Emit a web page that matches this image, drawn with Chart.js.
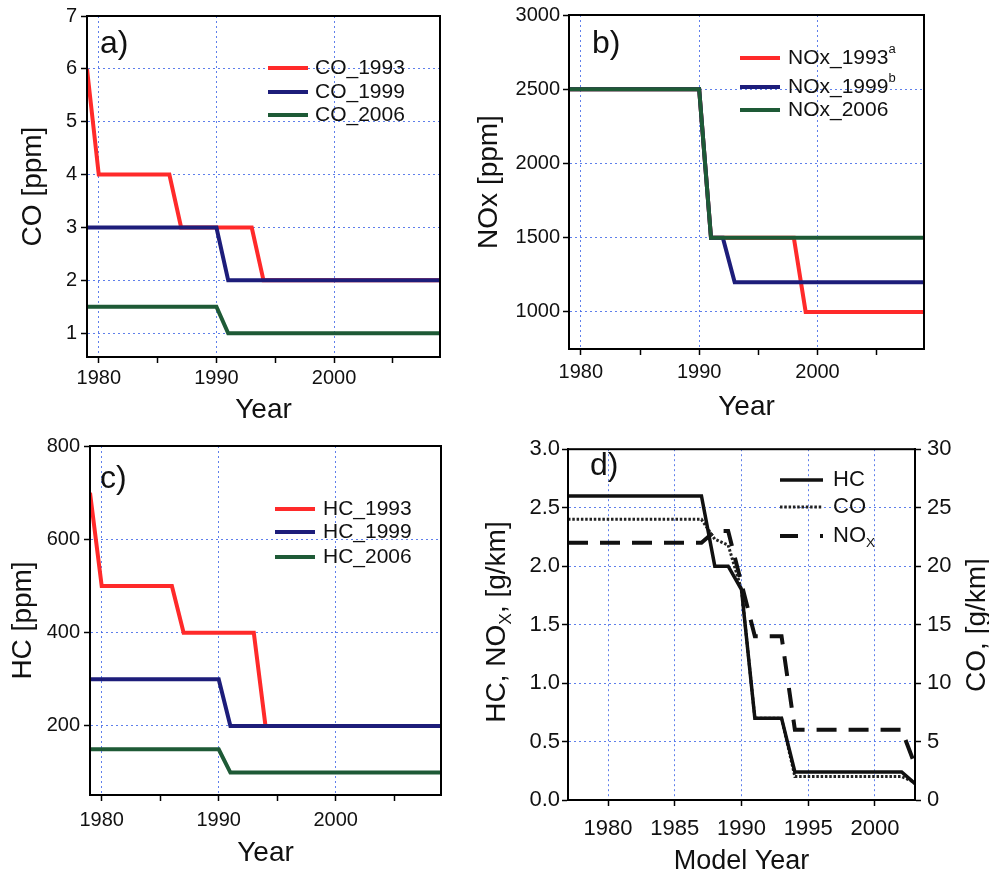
<!DOCTYPE html>
<html>
<head>
<meta charset="utf-8">
<title>Emission limits</title>
<script src="https://cdn.jsdelivr.net/npm/chart.js@4.4.0/dist/chart.umd.min.js"></script>
<style>
  body { margin: 0; background: #fff; width: 989px; height: 875px; overflow: hidden; position: relative; }
  canvas { position: absolute; }
</style>
</head>
<body>
<canvas id="chartA"></canvas>
<canvas id="chartB"></canvas>
<canvas id="chartC"></canvas>
<canvas id="chartD"></canvas>
<script>
// a) - c): limits per model year, 1979-2009
const years = [1979, 1980, 1981, 1982, 1983, 1984, 1985, 1986, 1987, 1988, 1989, 1990, 1991, 1992, 1993, 1994,
               1995, 1996, 1997, 1998, 1999, 2000, 2001, 2002, 2003, 2004, 2005, 2006, 2007, 2008, 2009];

const co1993 = [6, 4, 4, 4, 4, 4, 4, 4, 3, 3, 3, 3, 3, 3, 3, 2, 2, 2, 2, 2, 2, 2, 2, 2, 2, 2, 2, 2, 2, 2, 2];
const co1999 = [3, 3, 3, 3, 3, 3, 3, 3, 3, 3, 3, 3, 2, 2, 2, 2, 2, 2, 2, 2, 2, 2, 2, 2, 2, 2, 2, 2, 2, 2, 2];
const co2006 = [1.5, 1.5, 1.5, 1.5, 1.5, 1.5, 1.5, 1.5, 1.5, 1.5, 1.5, 1.5, 1, 1, 1, 1, 1, 1, 1, 1, 1, 1, 1, 1, 1, 1, 1, 1, 1, 1, 1];

const nox1993 = [2500, 2500, 2500, 2500, 2500, 2500, 2500, 2500, 2500, 2500, 2500, 2500, 1500, 1500, 1500, 1500,
                 1500, 1500, 1500, 1500, 1000, 1000, 1000, 1000, 1000, 1000, 1000, 1000, 1000, 1000, 1000];
const nox1999 = [2500, 2500, 2500, 2500, 2500, 2500, 2500, 2500, 2500, 2500, 2500, 2500, 1500, 1500, 1200, 1200,
                 1200, 1200, 1200, 1200, 1200, 1200, 1200, 1200, 1200, 1200, 1200, 1200, 1200, 1200, 1200];
const nox2006 = [2500, 2500, 2500, 2500, 2500, 2500, 2500, 2500, 2500, 2500, 2500, 2500, 1500, 1500, 1500, 1500,
                 1500, 1500, 1500, 1500, 1500, 1500, 1500, 1500, 1500, 1500, 1500, 1500, 1500, 1500, 1500];

const hc1993 = [700, 500, 500, 500, 500, 500, 500, 500, 400, 400, 400, 400, 400, 400, 400, 200,
                200, 200, 200, 200, 200, 200, 200, 200, 200, 200, 200, 200, 200, 200, 200];
const hc1999 = [300, 300, 300, 300, 300, 300, 300, 300, 300, 300, 300, 300, 200, 200, 200, 200,
                200, 200, 200, 200, 200, 200, 200, 200, 200, 200, 200, 200, 200, 200, 200];
const hc2006 = [150, 150, 150, 150, 150, 150, 150, 150, 150, 150, 150, 150, 100, 100, 100, 100,
                100, 100, 100, 100, 100, 100, 100, 100, 100, 100, 100, 100, 100, 100, 100];

// d): g/km standards, 1977-2003
const modelYears = [1977, 1978, 1979, 1980, 1981, 1982, 1983, 1984, 1985, 1986, 1987, 1988, 1989, 1990,
                    1991, 1992, 1993, 1994, 1995, 1996, 1997, 1998, 1999, 2000, 2001, 2002, 2003];
const hcKm  = [2.6, 2.6, 2.6, 2.6, 2.6, 2.6, 2.6, 2.6, 2.6, 2.6, 2.6, 2.0, 2.0, 1.8,
               0.7, 0.7, 0.7, 0.24, 0.24, 0.24, 0.24, 0.24, 0.24, 0.24, 0.24, 0.24, 0.14];
const coKm  = [24, 24, 24, 24, 24, 24, 24, 24, 24, 24, 24, 22.3, 21.8, 18,
               7, 7, 7, 2, 2, 2, 2, 2, 2, 2, 2, 2, 1.5];
const noxKm = [2.2, 2.2, 2.2, 2.2, 2.2, 2.2, 2.2, 2.2, 2.2, 2.2, 2.2, 2.3, 2.3, 1.85,
               1.4, 1.4, 1.4, 0.6, 0.6, 0.6, 0.6, 0.6, 0.6, 0.6, 0.6, 0.6, 0.3];

// tick positions
const yearTicks = [1980, 1985, 1990, 1995, 2000, 2005];
const coTicks = [1, 2, 3, 4, 5, 6, 7];
const noxTicks = [1000, 1500, 2000, 2500, 3000];
const hcTicks = [200, 400, 600, 800];
const modelYearTicks = [1980, 1985, 1990, 1995, 2000];
const kmTicks = [0, 0.5, 1.0, 1.5, 2.0, 2.5, 3.0];
const coKmTicks = [0, 5, 10, 15, 20, 25, 30];

const FONT = '"Liberation Sans", Arial, Helvetica, sans-serif';
const INK = '#111';
const GRID = 'rgba(55, 95, 230, 0.8)';
const RED = '#ff2a2a', NAVY = '#1d1d7a', GREEN = '#1e5a36';

function points(xs, ys) {
    return xs.map((x, i) => ({ x, y: ys[i] }));
}

function lineSet(label, xs, ys, color, order, extra) {
    return Object.assign({
        label,
        data: points(xs, ys),
        borderColor: color,
        backgroundColor: color,
        borderWidth: 4,
        pointRadius: 0,
        pointHoverRadius: 0,
        tension: 0,
        fill: false,
        order
    }, extra || {});
}

function axis(o) {
    return {
        type: "linear",
        position: o.pos,
        min: o.min,
        max: o.max,
        afterBuildTicks: ax => { ax.ticks = o.ticks.map(v => ({ value: v })); },
        afterFit: ax => {
            if (o.pos === "bottom") ax.height = o.size;
            else ax.width = o.size;
        },
        ticks: {
            autoSkip: false,
            maxRotation: 0,
            padding: o.pad,
            color: INK,
            font: { family: FONT, size: o.fontSize },
            callback: o.label || (v => String(v))
        },
        grid: {
            drawOnChartArea: o.grid !== false,
            color: o.gridColor || GRID,
            lineWidth: 1,
            drawTicks: true,
            tickLength: 6,
            tickWidth: 1.5,
            tickColor: "#000"
        },
        border: { display: true, color: "#000", width: 2, dash: [2, 3] },
        title: o.title
            ? { display: true, text: o.title, color: INK, font: { family: FONT, size: o.titleSize || 28 } }
            : { display: false }
    };
}

// label text: "^a" -> superscript a, "~X" -> subscript X
function runsOf(text) {
    const runs = [];
    const re = /([\^~])(\w)/g;
    let last = 0, m;
    while ((m = re.exec(text)) !== null) {
        if (m.index > last) runs.push({ t: text.slice(last, m.index) });
        runs.push({ t: m[2], sup: m[1] === "^", sub: m[1] === "~" });
        last = re.lastIndex;
    }
    if (last < text.length) runs.push({ t: text.slice(last) });
    return runs;
}

function drawRuns(ctx, runs, x, y, size, align) {
    const w = runs.reduce((s, r) => {
        ctx.font = `${(r.sup || r.sub) ? size * 0.62 : size}px ${FONT}`;
        return s + ctx.measureText(r.t).width;
    }, 0);
    let cx = align === "center" ? x - w / 2 : x;
    ctx.textAlign = "left";
    ctx.textBaseline = "middle";
    runs.forEach(r => {
        const small = r.sup || r.sub;
        ctx.font = `${small ? size * 0.62 : size}px ${FONT}`;
        const dy = r.sup ? -size * 0.42 : r.sub ? size * 0.32 : 0;
        ctx.fillText(r.t, cx, y + dy);
        cx += ctx.measureText(r.t).width;
    });
}

// frame, panel letter, in-plot legend and extra titles
function decor(box, spec) {
    return {
        id: "decor",
        afterDraw(chart) {
            const { ctx, chartArea: a } = chart;
            const ox = box.x, oy = box.y;
            ctx.save();
            ctx.setLineDash([]);
            ctx.strokeStyle = "#000";
            ctx.lineWidth = 2;
            ctx.strokeRect(a.left, a.top, a.right - a.left, a.bottom - a.top);

            ctx.fillStyle = INK;
            ctx.font = `32px ${FONT}`;
            ctx.textAlign = "left";
            ctx.textBaseline = "alphabetic";
            ctx.fillText(spec.tag, spec.tagAt[0] - ox, spec.tagAt[1] - oy);

            const lg = spec.legend;
            chart.data.datasets.forEach((ds, i) => {
                const y = lg.rows[i] - oy;
                ctx.save();
                ctx.strokeStyle = ds.borderColor;
                ctx.lineWidth = ds.borderWidth;
                ctx.setLineDash((lg.dash && lg.dash[i]) || ds.borderDash || []);
                ctx.beginPath();
                ctx.moveTo(lg.x1 - ox, y);
                ctx.lineTo(lg.x2 - ox, y);
                ctx.stroke();
                ctx.restore();
                ctx.fillStyle = INK;
                drawRuns(ctx, runsOf(ds.label), lg.tx - ox, y, lg.size, "left");
            });

            (spec.sideTitles || []).forEach(st => {
                ctx.save();
                ctx.translate(st.x - ox, st.y - oy);
                ctx.rotate(-Math.PI / 2);
                ctx.fillStyle = INK;
                drawRuns(ctx, runsOf(st.text), 0, 0, st.size, "center");
                ctx.restore();
            });
            ctx.restore();
        }
    };
}

function mount(id, box) {
    const c = document.getElementById(id);
    c.width = box.w;
    c.height = box.h;
    c.style.left = box.x + "px";
    c.style.top = box.y + "px";
    return c.getContext("2d");
}

function baseOptions(padTop, padRight, scales) {
    return {
        responsive: false,
        animation: false,
        events: [],
        layout: { padding: { top: padTop, right: padRight, left: 0, bottom: 0 } },
        plugins: { legend: { display: false }, tooltip: { enabled: false } },
        scales
    };
}

const tenYears = v => (v % 10 === 0 ? String(v) : "");
const decadeGrid = c => (c.tick && c.tick.value % 10 === 0 ? GRID : "rgba(0,0,0,0)");

// a) CO
const boxA = { x: 12, y: 0, w: 438, h: 431 };
new Chart(mount("chartA", boxA), {
    type: "line",
    data: {
        datasets: [
            lineSet("CO_1993", years, co1993, RED, 3),
            lineSet("CO_1999", years, co1999, NAVY, 2),
            lineSet("CO_2006", years, co2006, GREEN, 1)
        ]
    },
    options: baseOptions(14, 10, {
        x: axis({ pos: "bottom", min: 1979, max: 2009, ticks: yearTicks, size: 74, pad: 3, fontSize: 20,
                  label: tenYears, gridColor: decadeGrid, title: "Year" }),
        y: axis({ pos: "left", min: 0.55, max: 7, ticks: coTicks, size: 75, pad: 4, fontSize: 20, title: "CO [ppm]" })
    }),
    plugins: [decor(boxA, {
        tag: "a)", tagAt: [100, 53],
        legend: { x1: 268, x2: 308, tx: 315, rows: [68, 92, 115], size: 21 }
    })]
});

// b) NOx
const boxB = { x: 468, y: 0, w: 466, h: 428 };
new Chart(mount("chartB", boxB), {
    type: "line",
    data: {
        datasets: [
            lineSet("NOx_1993^a", years, nox1993, RED, 3),
            lineSet("NOx_1999^b", years, nox1999, NAVY, 2),
            lineSet("NOx_2006", years, nox2006, GREEN, 1)
        ]
    },
    options: baseOptions(14, 10, {
        x: axis({ pos: "bottom", min: 1979, max: 2009, ticks: yearTicks, size: 79, pad: 5, fontSize: 20,
                  label: tenYears, gridColor: decadeGrid, title: "Year" }),
        y: axis({ pos: "left", min: 750, max: 3000, ticks: noxTicks, size: 101, pad: 3, fontSize: 20, title: "NOx [ppm]" })
    }),
    plugins: [decor(boxB, {
        tag: "b)", tagAt: [592, 53],
        legend: { x1: 740, x2: 780, tx: 788, rows: [58, 87, 110], size: 21 }
    })]
});

// c) HC
const boxC = { x: 2, y: 430, w: 449, h: 444 };
new Chart(mount("chartC", boxC), {
    type: "line",
    data: {
        datasets: [
            lineSet("HC_1993", years, hc1993, RED, 3),
            lineSet("HC_1999", years, hc1999, NAVY, 2),
            lineSet("HC_2006", years, hc2006, GREEN, 1)
        ]
    },
    options: baseOptions(16, 10, {
        x: axis({ pos: "bottom", min: 1979, max: 2009, ticks: yearTicks, size: 79, pad: 7, fontSize: 20,
                  label: tenYears, gridColor: decadeGrid, title: "Year" }),
        y: axis({ pos: "left", min: 52, max: 800, ticks: hcTicks, size: 88, pad: 4, fontSize: 20, title: "HC [ppm]" })
    }),
    plugins: [decor(boxC, {
        tag: "c)", tagAt: [100, 488],
        legend: { x1: 275, x2: 315, tx: 323, rows: [509, 532, 557], size: 21 }
    })]
});

// d) g/km standards, CO on the right-hand axis
const boxD = { x: 479, y: 430, w: 510, h: 452 };
new Chart(mount("chartD", boxD), {
    type: "line",
    data: {
        datasets: [
            lineSet("HC", modelYears, hcKm, "#111", 1, { borderWidth: 3.5, yAxisID: "y" }),
            lineSet("CO", modelYears, coKm, "#222", 2, { borderWidth: 3, borderDash: [2.5, 1.8], yAxisID: "y2" }),
            lineSet("NO~X", modelYears, noxKm, "#111", 3, { borderWidth: 4, borderDash: [20, 12], yAxisID: "y" })
        ]
    },
    options: baseOptions(15, 0, {
        x: axis({ pos: "bottom", min: 1977, max: 2003, ticks: modelYearTicks, size: 82, pad: 10, fontSize: 22,
                  title: "Model Year", titleSize: 27 }),
        y: axis({ pos: "left", min: 0, max: 3, ticks: kmTicks, size: 89, pad: 2, fontSize: 22,
                  label: v => v.toFixed(1) }),
        y2: axis({ pos: "right", min: 0, max: 30, ticks: coKmTicks, size: 74, pad: 6, fontSize: 22, grid: false })
    }),
    plugins: [decor(boxD, {
        tag: "d)", tagAt: [590, 475],
        legend: { x1: 780, x2: 823, tx: 833, rows: [480, 507, 536], size: 22, dash: [null, null, [18, 22]] },
        sideTitles: [
            { text: "HC, NO~X, [g/km]", x: 497, y: 622, size: 28 },
            { text: "CO, [g/km]", x: 977, y: 625, size: 28 }
        ]
    })]
});
</script>
</body>
</html>
